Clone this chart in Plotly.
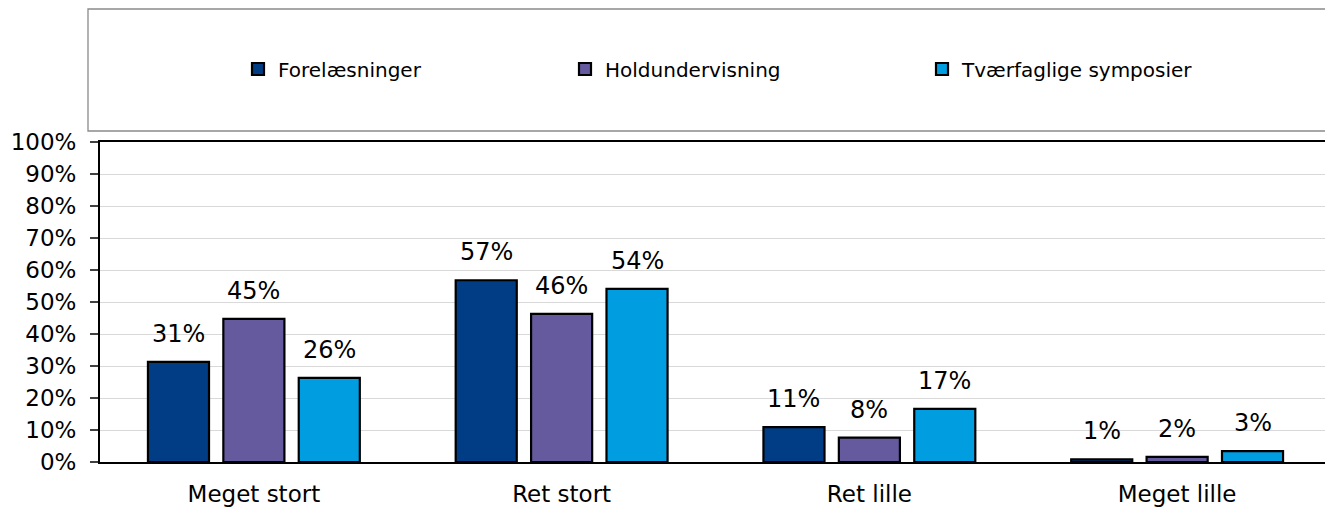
import plotly.graph_objects as go

categories = ["Meget stort", "Ret stort", "Ret lille", "Meget lille"]
series_names = ["Forelæsninger", "Holdundervisning", "Tværfaglige symposier"]
forelaesninger = [31.3, 56.8, 10.9, 0.8]
holdundervisning = [44.7, 46.3, 7.6, 1.6]
tvaerfaglige = [26.3, 54.1, 16.6, 3.4]
y_ticks = [0, 10, 20, 30, 40, 50, 60, 70, 80, 90, 100]
y_ticktext = [f"{t}%" for t in y_ticks]

colors = ["#003D84", "#665A9E", "#009EE0"]
FONT = "DejaVu Sans"

W, H = 1325, 508
ML, MR, MT, MB = 100, 0, 142, 46
plot_w = W - ML - MR
x_range = [-0.5, 3.4805]
bargap = 0.265
bargroupgap = 0.19
cat_px = plot_w / (x_range[1] - x_range[0])
slot_px = (1 - bargap) * cat_px / 3

series = [forelaesninger, holdundervisning, tvaerfaglige]
legend_ids = ["legend", "legend2", "legend3"]

fig = go.Figure()
for name, vals, col, lg in zip(series_names, series, colors, legend_ids):
    fig.add_trace(go.Bar(
        x=categories, y=vals, name=name, legend=lg,
        marker=dict(color=col, line=dict(color="black", width=2.2)),
        hoverinfo="skip",
    ))

annotations = []
for i, vals in enumerate(series):
    for c, v in zip(categories, vals):
        annotations.append(dict(
            x=c, y=v, xref="x", yref="y", text=f"{v:.0f}%", showarrow=False,
            xanchor="center", yanchor="bottom", xshift=(i - 1) * slot_px, yshift=12,
            font=dict(family=FONT, size=24, color="black"),
        ))

def px_x(p):
    return (p - ML) / plot_w

def px_y(p):
    return (H - MB - p) / (H - MT - MB)

legend_text_x = [273, 600, 957]
legends = {}
for lg, tx in zip(legend_ids, legend_text_x):
    legends[lg] = dict(
        x=px_x(tx - 35), y=px_y(69), xanchor="left", yanchor="middle",
        orientation="h", bgcolor="rgba(0,0,0,0)", borderwidth=0,
        font=dict(family=FONT, size=20, color="black"),
        itemwidth=30, traceorder="normal",
    )

fig.update_layout(
    width=W, height=H, autosize=False,
    margin=dict(l=ML, r=MR, t=MT, b=MB, pad=0),
    paper_bgcolor="white", plot_bgcolor="white",
    barmode="group", bargap=bargap, bargroupgap=bargroupgap,
    showlegend=True,
    annotations=annotations,
    shapes=[dict(
        type="rect", xref="paper", yref="paper",
        x0=px_x(88), x1=1.02, y0=px_y(131), y1=px_y(9),
        line=dict(color="#8a8a8a", width=1.3), fillcolor="rgba(0,0,0,0)", layer="below",
    )],
    font=dict(family=FONT, color="black"),
    **legends,
)
fig.update_xaxes(
    type="category", range=x_range, showgrid=False,
    showline=True, linecolor="black", linewidth=2, mirror=True,
    ticks="", tickfont=dict(family=FONT, size=23, color="black"),
    ticklabelstandoff=10, zeroline=False,
)
fig.update_yaxes(
    range=[0, 100], tickvals=y_ticks, ticktext=y_ticktext,
    showgrid=True, gridcolor="#d9d9d9", gridwidth=1,
    showline=True, linecolor="black", linewidth=2, mirror=False,
    ticks="outside", ticklen=8, tickcolor="#404040", tickwidth=1.5,
    tickfont=dict(family=FONT, size=23, color="black"),
    ticklabelstandoff=9, zeroline=False,
)

fig.write_html(
    "out.html",
    config={"displayModeBar": False, "staticPlot": True},
    post_script="document.body.style.margin='0';document.body.style.overflow='hidden';",
)
